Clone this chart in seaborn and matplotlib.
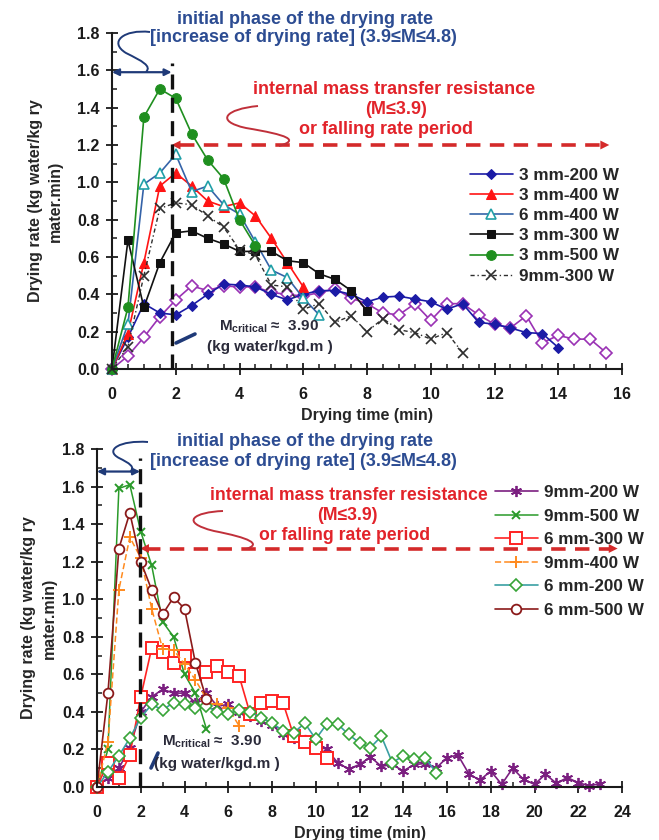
import matplotlib
matplotlib.use("Agg")
import matplotlib.pyplot as plt
from matplotlib.path import Path
from matplotlib.patches import PathPatch
from matplotlib.ticker import MultipleLocator, FormatStrFormatter
import seaborn as sns

sns.set_theme(style="ticks")
plt.rcParams["font.family"] = ["Liberation Sans", "DejaVu Sans"]
plt.rcParams["font.weight"] = "bold"
plt.rcParams["mathtext.fontset"] = "custom"
plt.rcParams["mathtext.bf"] = "Liberation Sans:bold"
plt.rcParams["mathtext.rm"] = "Liberation Sans"

# ---------------------------------------------------------------- data
# sampling instants (min), readings every half minute
TIME = [0.0, 0.5, 1.0, 1.5, 2.0, 2.5, 3.0, 3.5, 4.0, 4.5, 5.0, 5.5, 6.0, 6.5,
        7.0, 7.5, 8.0, 8.5, 9.0, 9.5, 10.0, 10.5, 11.0, 11.5, 12.0, 12.5,
        13.0, 13.5, 14.0, 14.5, 15.0, 15.5, 16.0, 16.5, 17.0, 17.5, 18.0,
        18.5, 19.0, 19.5, 20.0, 20.5, 21.0, 21.5, 22.0, 22.5, 23.0]

# upper panel: drying rate (kg water / kg dry matter . min)
rate_3mm_200W = [0, 0.17, 0.35, 0.30, 0.29, 0.34, 0.40, 0.455, 0.45, 0.44,
                 0.40, 0.37, 0.40, 0.42, 0.42, 0.40, 0.36, 0.385, 0.39, 0.375,
                 0.36, 0.32, 0.35, 0.25, 0.24, 0.22, 0.195, 0.19, 0.115]
rate_3mm_400W = [0, 0.19, 0.57, 0.98, 1.05, 0.98, 0.90, 0.87, 0.89, 0.82,
                 0.70, 0.57, 0.44]
rate_6mm_400W = [0, 0.24, 0.99, 1.05, 1.15, 0.95, 0.98, 0.88, 0.83, 0.68,
                 0.53, 0.49, 0.38, 0.29]
rate_3mm_300W = [0, 0.69, 0.33, 0.57, 0.73, 0.74, 0.70, 0.67, 0.63, 0.63,
                 0.63, 0.58, 0.57, 0.51, 0.48, 0.42, 0.31]
rate_3mm_500W = [0, 0.33, 1.35, 1.50, 1.45, 1.26, 1.12, 1.02, 0.80, 0.66]
rate_9mm_300W = [0, 0.12, 0.50, 0.86, 0.89, 0.88, 0.82, 0.76, 0.64, 0.61,
                 0.45, 0.44, 0.32, 0.35, 0.25, 0.285, 0.20, 0.27, 0.21, 0.195,
                 0.16, 0.195, 0.088]
rate_upper_extra = [0, 0.07, 0.17, 0.28, 0.37, 0.445, 0.42, 0.445, 0.44, 0.44,
                    0.41, 0.40, 0.39, 0.41, 0.43, 0.38, 0.35, 0.30, 0.29, 0.35,
                    0.26, 0.35, 0.35, 0.29, 0.24, 0.22, 0.285, 0.14, 0.18, 0.16,
                    0.16, 0.088]

# lower panel
rate_9mm_200W = [0, 0.05, 0.10, 0.21, 0.40, 0.48, 0.52, 0.50, 0.50, 0.45,
                 0.50, 0.43, 0.44, 0.40, 0.38, 0.35, 0.33, 0.28, 0.26, 0.25,
                 0.22, 0.20, 0.13, 0.095, 0.12, 0.16, 0.11, 0.12, 0.085, 0.12,
                 0.125, 0.10, 0.157, 0.17, 0.07, 0.036, 0.085, 0.014, 0.10,
                 0.04, 0.014, 0.068, 0.02, 0.05, 0.023, 0.006, 0.018]
rate_9mm_500W = [0, 0.20, 1.59, 1.61, 1.36, 1.18, 0.88, 0.80, 0.60, 0.50, 0.31]
rate_6mm_300W = [0, 0.13, 0.05, 0.17, 0.48, 0.74, 0.72, 0.66, 0.70, 0.60,
                 0.61, 0.645, 0.615, 0.59, 0.39, 0.45, 0.46, 0.45, 0.27, 0.24,
                 0.21, 0.155]
rate_9mm_400W = [0, 0.24, 1.05, 1.33, 1.22, 0.95, 0.735, 0.73, 0.655, 0.57,
                 0.47, 0.44, 0.42, 0.325]
rate_6mm_200W = [0, 0.08, 0.166, 0.26, 0.37, 0.44, 0.41, 0.45, 0.44, 0.42,
                 0.43, 0.40, 0.39, 0.41, 0.40, 0.37, 0.34, 0.30, 0.29, 0.34,
                 0.255, 0.335, 0.335, 0.28, 0.235, 0.21, 0.27, 0.13, 0.166,
                 0.147, 0.157, 0.077]
rate_6mm_500W = [0, 0.50, 1.27, 1.46, 1.20, 1.05, 0.92, 1.01, 0.95, 0.66, 0.47]

upper_labels = ["3 mm-200 W", "3 mm-400 W", "6 mm-400 W", "3 mm-300 W",
                "3 mm-500 W", "9mm-300 W"]
lower_labels = ["9mm-200 W", "9mm-500 W", "6 mm-300 W", "9mm-400 W",
                "6 mm-200 W", "6 mm-500 W"]

# ---------------------------------------------------------------- styles
upper_styles = [
    dict(color="#1B1BA6", marker="D", markersize=5.5, markerfacecolor="#1B1BA6",
         markeredgecolor="#1B1BA6", linewidth=1.2),
    dict(color="#FF1414", marker="^", markersize=7.5, markerfacecolor="#FF1414",
         markeredgecolor="#FF1414", linewidth=1.2),
    dict(color="#3563A8", marker="^", markersize=7.5, markerfacecolor="white",
         markeredgecolor="#22A0A8", markeredgewidth=1.2, linewidth=1.2),
    dict(color="#111111", marker="s", markersize=5.5, markerfacecolor="#111111",
         markeredgecolor="#111111", linewidth=1.2),
    dict(color="#1F8F1F", marker="o", markersize=7, markerfacecolor="#1F8F1F",
         markeredgecolor="#1F8F1F", linewidth=1.2),
    dict(color="#2E2E2E", marker="x", markersize=7.5, markeredgewidth=1.2,
         markeredgecolor="#2E2E2E", linewidth=1.0,
         linestyle=(0, (3, 2, 1, 2))),
]
upper_extra_style = dict(color="#9A32B4", marker="D", markersize=6,
                         markerfacecolor="white", markeredgecolor="#9A32B4",
                         markeredgewidth=1.2, linewidth=1.2)

lower_styles = [
    dict(color="#7B1F80", marker=(6, 2, 0), markersize=8, markeredgewidth=1.3,
         markeredgecolor="#7B1F80", linewidth=1.2),
    dict(color="#2A9A2A", marker="x", markersize=6, markeredgewidth=1.4,
         markeredgecolor="#2A9A2A", linewidth=1.1),
    dict(color="#FF2222", marker="s", markersize=8, markerfacecolor="white",
         markeredgecolor="#FF2222", markeredgewidth=1.4, linewidth=1.2),
    dict(color="#FF8A1E", marker="+", markersize=8, markeredgewidth=1.4,
         markeredgecolor="#FF8A1E", linewidth=1.1, linestyle=(0, (4, 2))),
    dict(color="#3A9FA3", marker="D", markersize=6.5, markerfacecolor="white",
         markeredgecolor="#37A437", markeredgewidth=1.2, linewidth=1.2),
    dict(color="#8B1A1A", marker="o", markersize=7, markerfacecolor="white",
         markeredgecolor="#8B1A1A", markeredgewidth=1.3, linewidth=1.2),
]

W, H = 659, 840
BLUE_TXT = "#2C4C92"
RED_TXT = "#E2232A"
RED_ARW = "#D42A2A"
NAVY = "#1F3A78"
CAPTION_SIZE = 13


def fxy(x, y):
    return (x / W, 1 - y / H)


def series(ax, values, label, style):
    t = TIME[:len(values)]
    sns.lineplot(x=t, y=values, ax=ax, label=label, clip_on=False,
                 estimator=None, sort=False, **style)


def bezier(fig, pts, color, lw):
    verts = [fxy(*p) for p in pts]
    codes = [Path.MOVETO] + [Path.CURVE4] * (len(verts) - 1)
    patch = PathPatch(Path(verts, codes), facecolor="none", edgecolor=color,
                      lw=lw, transform=fig.transFigure, clip_on=False)
    fig.add_artist(patch)


def style_axes(ax, xmax, xminor, ylabelpad):
    ax.set_xlim(0, xmax)
    ax.set_ylim(0, 1.8)
    ax.xaxis.set_major_locator(MultipleLocator(2))
    ax.xaxis.set_minor_locator(MultipleLocator(xminor))
    ax.yaxis.set_major_locator(MultipleLocator(0.2))
    ax.yaxis.set_minor_locator(MultipleLocator(0.1))
    ax.yaxis.set_major_formatter(FormatStrFormatter("%.1f"))
    ax.xaxis.set_major_formatter(FormatStrFormatter("%d"))
    sns.despine(ax=ax)
    for s in ("left", "bottom"):
        ax.spines[s].set_linewidth(1.5)
        ax.spines[s].set_color("#1a1a1a")
    ax.tick_params(axis="both", which="major", direction="inout", length=8,
                   width=1.3, color="#1a1a1a", labelsize=11.5,
                   labelcolor="#1a1a1a")
    ax.tick_params(axis="x", which="major", pad=9)
    ax.tick_params(axis="y", which="major", pad=5)
    ax.tick_params(axis="both", which="minor", direction="in", length=3.5,
                   width=1.1, color="#1a1a1a")
    for lab in ax.get_xticklabels() + ax.get_yticklabels():
        lab.set_fontweight("bold")
    ax.set_xlabel("Drying time (min)", fontsize=11.5, fontweight="bold",
                  labelpad=4)
    ax.set_ylabel("Drying rate (kg water/kg ry\nmater.min)", fontsize=11.5,
                  fontweight="bold", labelpad=ylabelpad, linespacing=1.45)
    ax.set_facecolor("white")


fig = plt.figure(figsize=(W / 100, H / 100), dpi=100)
fig.patch.set_facecolor("white")

# ---------------------------------------------------------------- upper panel
ax1 = fig.add_axes([112 / W, 1 - 369 / H, (622 - 112) / W, (369 - 33) / H])
series(ax1, rate_upper_extra, None, upper_extra_style)
upper_data = [rate_3mm_200W, rate_3mm_400W, rate_6mm_400W, rate_3mm_300W,
              rate_3mm_500W, rate_9mm_300W]
for vals, lab, st in zip(upper_data, upper_labels, upper_styles):
    series(ax1, vals, lab, st)
style_axes(ax1, 16, 0.5, 10)

# ---------------------------------------------------------------- lower panel
ax2 = fig.add_axes([97 / W, 1 - 787 / H, (622 - 97) / W, (787 - 449) / H])
lower_data = [rate_9mm_200W, rate_9mm_500W, rate_6mm_300W, rate_9mm_400W,
              rate_6mm_200W, rate_6mm_500W]
for vals, lab, st in zip(lower_data, lower_labels, lower_styles):
    series(ax2, vals, lab, st)
style_axes(ax2, 24, 1, 4)


def phase_marks(ax, x_crit, y_top, y_arrow, y_red, x_red_end):
    # critical-moisture boundary
    ax.plot([x_crit, x_crit], [0, y_top], color="#111111", lw=2.4,
            linestyle=(0, (4.5, 2.5)), clip_on=False, zorder=5)
    # initial phase span
    ax.annotate("", xy=(0, y_arrow), xytext=(x_crit, y_arrow),
                arrowprops=dict(arrowstyle="<|-|>", color=NAVY, lw=1.6,
                                mutation_scale=10, shrinkA=0, shrinkB=0),
                annotation_clip=False)
    # falling-rate span
    ax.plot([x_crit + 0.25, x_red_end - 0.25], [y_red, y_red], color=RED_ARW,
            lw=2.6, linestyle=(0, (4, 2.6)), clip_on=False, zorder=5)
    for a, b in ((x_crit + 0.9, x_crit), (x_red_end - 0.9, x_red_end)):
        ax.annotate("", xy=(b, y_red), xytext=(a, y_red),
                    arrowprops=dict(arrowstyle="-|>", color=RED_ARW, lw=0,
                                    mutation_scale=16, shrinkA=0, shrinkB=0),
                    annotation_clip=False)


phase_marks(ax1, 1.87, 1.64, 1.59, 1.20, 15.6)
phase_marks(ax2, 1.97, 1.75, 1.68, 1.27, 23.8)

# legends
for ax, anchor, spacing in ((ax1, (470, 168), 0.30), (ax2, (495, 485), 0.50)):
    h, l = ax.get_legend_handles_labels()
    ax.legend(h, l, loc="upper left", bbox_to_anchor=fxy(*anchor),
              bbox_transform=fig.transFigure, frameon=False,
              handlelength=2.5, handletextpad=0.35, labelspacing=spacing,
              borderpad=0, borderaxespad=0,
              prop=dict(weight="bold", size=12.3))


# ---------------------------------------------------------------- annotations
def annotate_panel(y_blue, y_red, red_cx, paren_cx, falling_cx, mc_xy, kg_xy,
                   slash, red_size):
    fig.text(*fxy(305, y_blue), "initial phase of the drying rate",
             ha="center", va="center", color=BLUE_TXT, fontsize=CAPTION_SIZE,
             fontweight="bold")
    fig.text(*fxy(303, y_blue + 19), "[increase of drying rate] (3.9≤M≤4.8)",
             ha="center", va="center", color=BLUE_TXT, fontsize=CAPTION_SIZE,
             fontweight="bold")
    fig.text(*fxy(red_cx, y_red), "internal mass transfer resistance",
             ha="center", va="center", color=RED_TXT, fontsize=red_size,
             fontweight="bold")
    fig.text(*fxy(paren_cx, y_red + 20), "(M≤3.9)", ha="center", va="center",
             color=RED_TXT, fontsize=red_size, fontweight="bold")
    fig.text(*fxy(falling_cx, y_red + 40), "or falling rate period",
             ha="center", va="center", color=RED_TXT, fontsize=red_size,
             fontweight="bold")
    fig.text(*fxy(*mc_xy), r"$\mathbf{M}_{\mathbf{critical}}$ ≈  3.90",
             ha="left", va="center", color="#2B2B3A", fontsize=11,
             fontweight="bold")
    fig.text(*fxy(*kg_xy), "(kg water/kgd.m )", ha="left", va="center",
             color="#2B2B3A", fontsize=11, fontweight="bold")
    (sx0, sy0), (sx1, sy1) = slash
    fig.add_artist(plt.Line2D([sx0 / W, sx1 / W], [1 - sy0 / H, 1 - sy1 / H],
                              color=NAVY, lw=2.6, solid_capstyle="round",
                              transform=fig.transFigure))


annotate_panel(19, 89, 394, 396, 386, (219, 327), (207, 347),
               ((176, 343), (195, 334)), CAPTION_SIZE)
annotate_panel(442, 495, 349, 347, 345, (162, 742), (154, 764),
               ((151, 768), (158, 753)), 12.7)

# connector curls from the captions to the spans
bezier(fig, [(150, 32), (124, 29), (108, 42), (126, 53),
             (142, 61), (152, 66), (146, 72)], NAVY, 1.4)
bezier(fig, [(148, 442), (120, 440), (104, 450), (119, 458),
             (129, 463), (136, 467), (130, 472)], NAVY, 1.4)
bezier(fig, [(258, 106), (226, 109), (214, 121), (246, 128),
             (288, 135), (300, 140), (279, 146)], "#C0303A", 1.4)
bezier(fig, [(223, 511), (195, 512), (178, 522), (214, 531),
             (250, 538), (262, 544), (246, 549)], "#C0303A", 1.4)

fig.savefig("out.png", dpi=100, facecolor="white")
